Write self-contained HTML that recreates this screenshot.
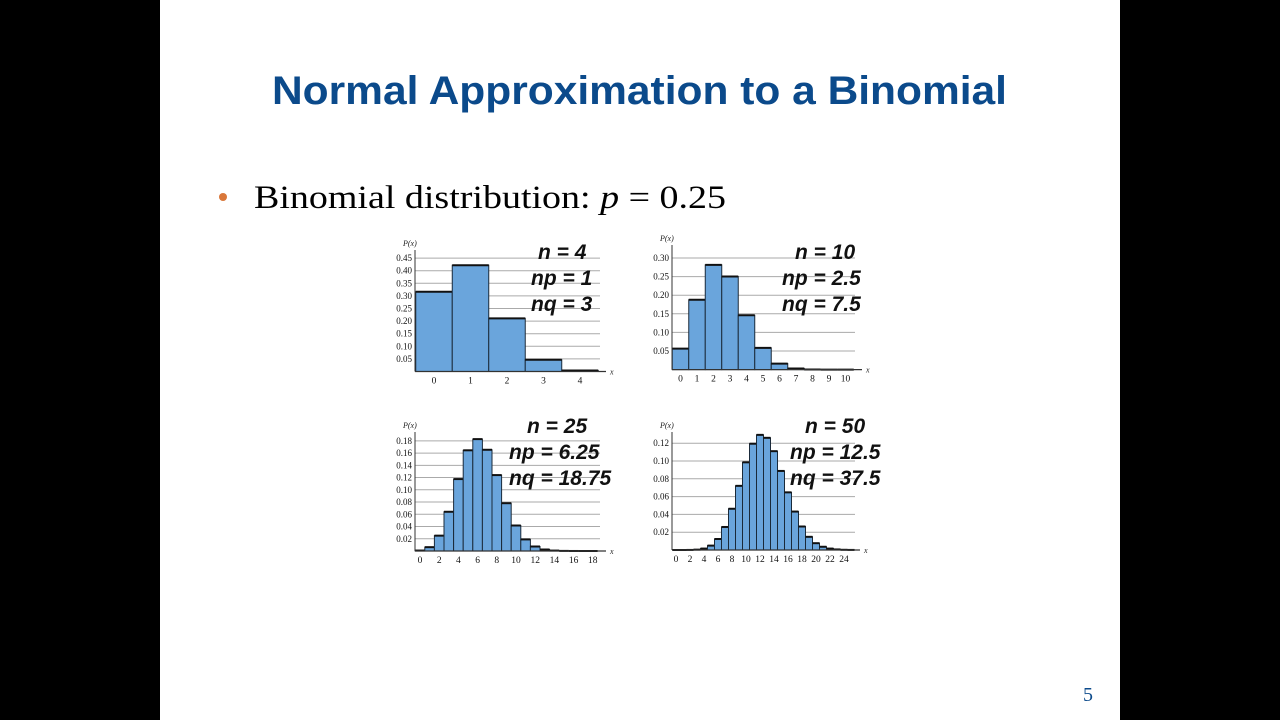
<!DOCTYPE html>
<html><head><meta charset="utf-8"><style>
html,body{margin:0;padding:0;background:#000;}
svg{display:block}
</style></head><body>
<svg id="s" width="1280" height="720" xmlns="http://www.w3.org/2000/svg">
<rect x="0" y="0" width="1280" height="720" fill="#000"/>
<rect x="160" y="0" width="960" height="720" fill="#fff"/>
<text x="272" y="104" font-family="Liberation Sans" font-weight="bold" font-size="40" fill="#0b4a8b" textLength="735" lengthAdjust="spacingAndGlyphs">Normal Approximation to a Binomial</text>
<circle cx="223" cy="197" r="4" fill="#d9773a"/>
<text x="254" y="208" font-family="Liberation Serif" font-size="33" fill="#000" textLength="472" lengthAdjust="spacingAndGlyphs">Binomial distribution:  <tspan font-style="italic">p</tspan> = 0.25</text>
<text x="1088" y="701" font-family="Liberation Serif" font-size="20" fill="#0b4a8b" text-anchor="middle">5</text>
<g id="charts"></g>
</svg>
<script>
function binom(n,p){var r=[];for(var k=0;k<=n;k++){var c=1;for(var i=0;i<k;i++)c=c*(n-i)/(i+1);r.push(c*Math.pow(p,k)*Math.pow(1-p,n-k));}return r;}
var g=document.getElementById('charts');var out='';
function chart(o){
 var d=binom(o.n,0.25);
 for(var i=0;i<o.ticks.length;i++){var y=o.base-o.ticks[i]*o.sy;
  out+='<line x1="'+o.x0+'" x2="'+o.gx+'" y1="'+y+'" y2="'+y+'" stroke="#aaa" stroke-width="1"/>';
  out+='<text x="'+(o.x0-3)+'" y="'+(y+3)+'" font-family="Liberation Serif" font-size="9" text-anchor="end" fill="#111">'+o.lab[i]+'</text>';}
 for(var k=0;k<=o.n&&k<=o.maxk;k++){var cx=o.c0+k*o.sx;var h=d[k]*o.sy;
  out+='<rect x="'+(cx-o.sx/2)+'" y="'+(o.base-h)+'" width="'+o.sx+'" height="'+h+'" fill="#6aa5dc" stroke="#1a2a3a" stroke-width="1"/>';
  out+='<line x1="'+(cx-o.sx/2)+'" x2="'+(cx+o.sx/2)+'" y1="'+(o.base-h)+'" y2="'+(o.base-h)+'" stroke="#111" stroke-width="2"/>';}
 out+='<line x1="'+o.x0+'" x2="'+(o.ax)+'" y1="'+o.base+'" y2="'+o.base+'" stroke="#333" stroke-width="1.2"/>';
 out+='<line x1="'+o.x0+'" x2="'+o.x0+'" y1="'+o.base+'" y2="'+o.top+'" stroke="#333" stroke-width="1"/>';
 out+='<text x="'+(o.x0-12)+'" y="'+(o.top-4)+'" font-family="Liberation Serif" font-style="italic" font-size="8" fill="#222">P(x)</text>';
 out+='<text x="'+(o.ax+4)+'" y="'+(o.base+3)+'" font-family="Liberation Serif" font-style="italic" font-size="8" fill="#222">x</text>';
 for(var j=0;j<o.xl.length;j++){var cx=o.c0+o.xl[j]*o.sx;
  out+='<text x="'+cx+'" y="'+(o.base+12)+'" font-family="Liberation Serif" font-size="9.5" text-anchor="middle" fill="#111">'+o.xl[j]+'</text>';}
 for(var t=0;t<3;t++){out+='<text x="'+o.tx[t]+'" y="'+(o.ty+t*26)+'" font-family="Liberation Sans" font-weight="bold" font-style="italic" font-size="21" fill="#111">'+o.txt[t]+'</text>';}
}
chart({n:4,maxk:4,c0:434,sx:36.5,base:371.5,sy:252,x0:415,gx:600,ax:606,top:250,ticks:[.05,.1,.15,.2,.25,.3,.35,.4,.45],lab:['0.05','0.10','0.15','0.20','0.25','0.30','0.35','0.40','0.45'],xl:[0,1,2,3,4],tx:[538,531,531],ty:259,txt:['n = 4','np = 1','nq = 3']});
chart({n:10,maxk:10,c0:680.5,sx:16.5,base:369.6,sy:372,x0:672,gx:855,ax:862,top:245,ticks:[.05,.1,.15,.2,.25,.3],lab:['0.05','0.10','0.15','0.20','0.25','0.30'],xl:[0,1,2,3,4,5,6,7,8,9,10],tx:[795,782,782],ty:259,txt:['n = 10','np = 2.5','nq = 7.5']});
chart({n:25,maxk:18,c0:420,sx:9.6,base:551,sy:612,x0:415,gx:600,ax:606,top:432,ticks:[.02,.04,.06,.08,.1,.12,.14,.16,.18],lab:['0.02','0.04','0.06','0.08','0.10','0.12','0.14','0.16','0.18'],xl:[0,2,4,6,8,10,12,14,16,18],tx:[527,509,509],ty:433,txt:['n = 25','np = 6.25','nq = 18.75']});
chart({n:50,maxk:25,c0:676,sx:7,base:550,sy:890,x0:672,gx:855,ax:860,top:432,ticks:[.02,.04,.06,.08,.1,.12],lab:['0.02','0.04','0.06','0.08','0.10','0.12'],xl:[0,2,4,6,8,10,12,14,16,18,20,22,24],tx:[805,790,790],ty:433,txt:['n = 50','np = 12.5','nq = 37.5']});
g.innerHTML=out;
</script>
</body></html>
